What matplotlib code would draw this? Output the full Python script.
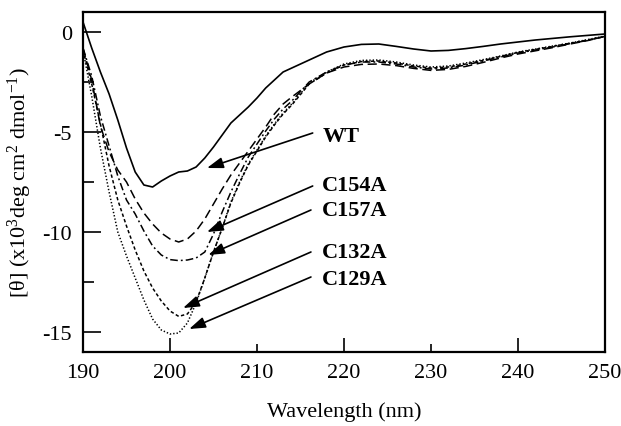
import matplotlib
matplotlib.use("Agg")
import matplotlib.pyplot as plt
from matplotlib.ticker import FixedLocator, FixedFormatter

plt.rcParams['font.family'] = ['Liberation Serif', 'DejaVu Serif']
plt.rcParams['mathtext.fontset'] = 'custom'
plt.rcParams['mathtext.rm'] = 'Liberation Serif'
plt.rcParams['mathtext.it'] = 'Liberation Serif:italic'
plt.rcParams['mathtext.bf'] = 'Liberation Serif:bold'
plt.rcParams['axes.unicode_minus'] = False

# ---------------- data ----------------
wavelength = [190, 191, 192, 193, 194, 195, 196, 197, 198, 199, 200, 201, 202, 203,
              204, 205, 206, 207, 208, 209, 210, 211, 212, 213, 214, 216, 218, 220,
              222, 224, 226, 228, 230, 232, 234, 236, 238, 240, 242, 244, 246, 248, 250]

wt = [0.5, -0.8, -2.0, -3.1, -4.4, -5.8, -7.0, -7.65, -7.75, -7.45, -7.2, -7.0, -6.95, -6.75,
      -6.3, -5.75, -5.15, -4.55, -4.15, -3.75, -3.3, -2.8, -2.4, -2.0, -1.8, -1.4, -1.0, -0.75,
      -0.62, -0.6, -0.72, -0.85, -0.95, -0.92, -0.83, -0.72, -0.6, -0.5, -0.4, -0.32, -0.24, -0.17, -0.1]

c154a = [-0.8, -2.4, -4.7, -6.0, -6.9, -7.5, -8.35, -9.05, -9.6, -10.05, -10.35, -10.5, -10.35, -9.95,
         -9.35, -8.6, -7.85, -7.15, -6.55, -5.95, -5.35, -4.75, -4.1, -3.6, -3.25, -2.6, -2.05, -1.75,
         -1.62, -1.6, -1.68, -1.82, -1.92, -1.87, -1.72, -1.52, -1.3, -1.1, -0.94, -0.78, -0.6, -0.43, -0.22]

c157a = [-0.8, -2.2, -4.2, -5.7, -7.2, -8.4, -9.1, -9.95, -10.7, -11.15, -11.38, -11.43, -11.4, -11.3,
         -11.0, -10.1, -9.0, -8.0, -7.1, -6.25, -5.6, -4.95, -4.35, -3.85, -3.45, -2.5, -2.0, -1.65,
         -1.5, -1.5, -1.6, -1.75, -1.85, -1.8, -1.65, -1.45, -1.25, -1.05, -0.9, -0.75, -0.58, -0.42, -0.22]

c132a = [-0.9, -2.6, -4.6, -6.7, -8.4, -9.7, -10.9, -11.95, -12.8, -13.45, -13.95, -14.22, -14.1, -13.5,
         -12.3, -11.0, -9.8, -8.55, -7.55, -6.65, -5.95, -5.25, -4.65, -4.1, -3.65, -2.6, -2.05, -1.65,
         -1.48, -1.45, -1.55, -1.7, -1.8, -1.75, -1.6, -1.42, -1.22, -1.02, -0.87, -0.72, -0.56, -0.4, -0.22]

c129a = [-0.9, -3.2, -5.8, -8.0, -10.0, -11.2, -12.3, -13.4, -14.35, -14.9, -15.1, -15.05, -14.55, -13.55,
         -12.3, -11.0, -9.8, -8.5, -7.5, -6.6, -5.9, -5.2, -4.6, -4.05, -3.6, -2.55, -2.0, -1.6,
         -1.42, -1.4, -1.5, -1.65, -1.75, -1.7, -1.55, -1.38, -1.2, -1.0, -0.85, -0.7, -0.55, -0.38, -0.2]

series_names = ['WT', 'C154A', 'C157A', 'C132A', 'C129A']
series_values = [wt, c154a, c157a, c132a, c129a]

x_tick_labels = ['190', '200', '210', '220', '230', '240', '250']
y_tick_labels = ['0', '-5', '-10', '-15']

# ---------------- styles / layout ----------------
styles = {
    'WT': dict(linestyle='-', linewidth=1.2),
    'C154A': dict(linestyle=(0, (6, 3)), linewidth=1.1),
    'C157A': dict(linestyle=(0, (5, 2, 1.2, 2)), linewidth=1.1),
    'C132A': dict(linestyle=(0, (2.2, 1.6)), linewidth=1.1),
    'C129A': dict(linestyle=(0, (0.9, 1.3)), linewidth=1.1),
}

# label text (left x, center y) and arrow (start, tip), in data units
label_pos = {'WT': (217.6, -5.2), 'C154A': (217.4, -7.65), 'C157A': (217.4, -8.9),
             'C132A': (217.4, -11.0), 'C129A': (217.4, -12.35)}
arrow_start = {'WT': (216.4, -5.05), 'C154A': (216.4, -7.7), 'C157A': (216.2, -8.9),
               'C132A': (216.2, -11.0), 'C129A': (216.2, -12.25)}
arrow_tip = {'WT': (204.25, -6.8), 'C154A': (204.25, -10.0), 'C157A': (204.4, -11.15),
             'C132A': (201.5, -13.8), 'C129A': (202.2, -14.85)}

fig = plt.figure(figsize=(6.21, 4.27), dpi=100)
ax = fig.add_axes([83 / 621, 1 - 353 / 427, (605 - 83) / 621, (353 - 13) / 427])

for name, vals in zip(series_names, series_values):
    ax.plot(wavelength, vals, color='black', **styles[name])

for name in series_names:
    ax.annotate('', xy=arrow_tip[name], xytext=arrow_start[name],
                arrowprops=dict(arrowstyle='-|>,head_length=0.65,head_width=0.22',
                                color='black', lw=1.2, shrinkA=0, shrinkB=0,
                                mutation_scale=15))
    ax.text(label_pos[name][0], label_pos[name][1], name, fontsize=16,
            fontweight='bold', ha='left', va='center')

ax.set_xlim(190, 250)
ax.set_ylim(-16, 1)

x_vals = [int(t) for t in x_tick_labels]
major_x = [v for v in x_vals if v in (200, 220, 240)]
minor_x = [v for v in x_vals if v not in major_x]
ax.xaxis.set_major_locator(FixedLocator(major_x))
ax.xaxis.set_major_formatter(FixedFormatter([str(v) for v in major_x]))
ax.xaxis.set_minor_locator(FixedLocator(minor_x))
ax.xaxis.set_minor_formatter(FixedFormatter([str(v) for v in minor_x]))

y_vals = [float(t) for t in y_tick_labels]
ax.yaxis.set_major_locator(FixedLocator(y_vals))
ax.yaxis.set_major_formatter(FixedFormatter(y_tick_labels))
ax.yaxis.set_minor_locator(FixedLocator([-2.5, -7.5, -12.5]))

ax.tick_params(axis='x', which='major', direction='in', length=10, width=1.2,
               labelsize=16, pad=8)
ax.tick_params(axis='x', which='minor', direction='in', length=6, width=1.2,
               labelsize=16, pad=8)
ax.tick_params(axis='y', which='major', direction='in', length=13, width=1.2,
               labelsize=16, pad=8)
ax.tick_params(axis='y', which='minor', direction='in', length=8, width=1.2)

for sp in ax.spines.values():
    sp.set_linewidth(1.6)

ax.set_xlabel('Wavelength (nm)', fontsize=16, labelpad=14)
ax.set_ylabel('[θ] (x10$^3$deg cm$^2$ dmol$^{-1}$)', fontsize=16, labelpad=6)

fig.savefig('out.png', dpi=100)
